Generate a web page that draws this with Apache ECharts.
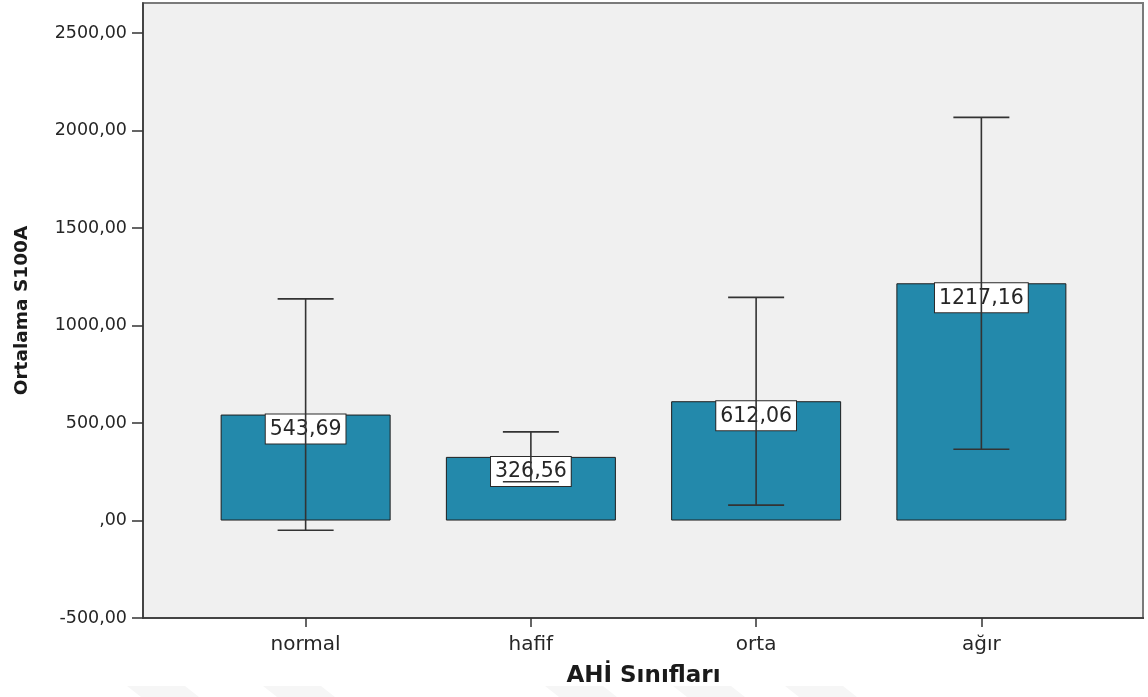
<!DOCTYPE html>
<html>
<head>
<meta charset="utf-8">
<title>Ortalama S100A – AHİ Sınıfları</title>
<script src="https://cdn.jsdelivr.net/npm/echarts@6/dist/echarts.min.js"></script>
<style>
  html, body { margin: 0; padding: 0; background: #ffffff; }
  #chart { width: 1148px; height: 697px; }
</style>
</head>
<body>
<div id="chart"></div>
<script>
// AHİ classes and mean S100A with error bar limits
const categories = ['normal', 'hafif', 'orta', 'ağır'];
const means = [543.69, 326.56, 612.06, 1217.16];
const errLow = [-50, 199, 79, 366];
const errHigh = [1137, 455, 1145, 2068];
const yTicks = [-500, 0, 500, 1000, 1500, 2000, 2500];

const FONT = 'DejaVu Sans';
const fmt = v => (v === 0 ? ',00' : v.toFixed(2).replace('.', ','));

const errData = categories.map((c, i) => [i, errLow[i], errHigh[i]]);

// plot frame geometry (pixels)
const frameLeft = 143, frameTop = 3, frameRight = 1143, frameBottom = 618;

const chart = echarts.init(document.getElementById('chart'), null, { renderer: 'canvas' });

// faint slanted background shapes along the bottom edge
const watermark = [127, 263, 545, 673, 785].map(x => ({
  type: 'polygon',
  z: -20,
  silent: true,
  shape: { points: [[x, 686], [x + 58, 686], [x + 72, 697], [x + 14, 697]] },
  style: { fill: '#f6f6f6' }
}));

chart.setOption({
  animation: false,
  textStyle: { fontFamily: FONT },
  grid: { left: 193, right: 54, top: frameTop, bottom: 697 - frameBottom },
  graphic: [
    {
      type: 'rect', z: -10, silent: true,
      shape: { x: frameLeft, y: frameTop, width: frameRight - frameLeft, height: frameBottom - frameTop },
      style: { fill: '#f0f0f0', stroke: '#7a7a7a', lineWidth: 2 }
    },
    {
      type: 'line', z: -5, silent: true,
      shape: { x1: frameLeft, y1: frameBottom, x2: frameRight + 1, y2: frameBottom },
      style: { stroke: '#333', lineWidth: 1.5 }
    }
  ].concat(watermark),
  xAxis: {
    type: 'category',
    data: categories,
    axisLine: { show: false, onZero: false },
    axisTick: { show: true, alignWithLabel: true, length: 9, lineStyle: { color: '#333', width: 1.5 } },
    axisLabel: { fontFamily: FONT, fontSize: 20, color: '#262626', margin: 17 },
    name: 'AHİ Sınıfları',
    nameLocation: 'middle',
    nameGap: 47,
    nameTextStyle: { fontFamily: FONT, fontSize: 23, fontWeight: 'bold', color: '#1a1a1a' }
  },
  yAxis: {
    type: 'value',
    min: -500,
    max: 2655,
    offset: 50,
    splitLine: { show: false },
    axisLine: { show: true, onZero: false, lineStyle: { color: '#333', width: 1.5 } },
    axisTick: { show: true, length: 11, customValues: yTicks, lineStyle: { color: '#333', width: 1.5 } },
    axisLabel: {
      customValues: yTicks,
      fontFamily: FONT, fontSize: 17.5, color: '#262626', margin: 16,
      formatter: v => fmt(v)
    },
    name: 'Ortalama S100A',
    nameLocation: 'middle',
    nameGap: 111,
    nameTextStyle: { fontFamily: FONT, fontSize: 18.5, fontWeight: 'bold', color: '#1a1a1a' }
  },
  series: [
    {
      type: 'bar',
      data: means,
      barWidth: 170,
      z: 2,
      itemStyle: { color: '#2389ab', borderColor: '#1e1e1e', borderWidth: 1 },
      label: {
        show: true,
        position: 'insideTop',
        distance: 0,
        formatter: p => fmt(p.value),
        fontFamily: FONT,
        fontSize: 20.5,
        lineHeight: 22,
        color: '#262626',
        backgroundColor: '#ffffff',
        borderColor: '#2a2a2a',
        borderWidth: 1,
        padding: [4, 4, 3, 4]
      }
    },
    {
      type: 'custom',
      z: 10,
      data: errData,
      encode: { x: 0, y: [1, 2] },
      renderItem: (params, api) => {
        const i = api.value(0);
        const lo = api.coord([i, api.value(1)]);
        const hi = api.coord([i, api.value(2)]);
        const half = 28;
        const style = { stroke: '#333', lineWidth: 1.6 };
        return {
          type: 'group',
          children: [
            { type: 'line', shape: { x1: hi[0], y1: hi[1], x2: lo[0], y2: lo[1] }, style },
            { type: 'line', shape: { x1: hi[0] - half, y1: hi[1], x2: hi[0] + half, y2: hi[1] }, style },
            { type: 'line', shape: { x1: lo[0] - half, y1: lo[1], x2: lo[0] + half, y2: lo[1] }, style }
          ]
        };
      }
    }
  ]
});
</script>
</body>
</html>
